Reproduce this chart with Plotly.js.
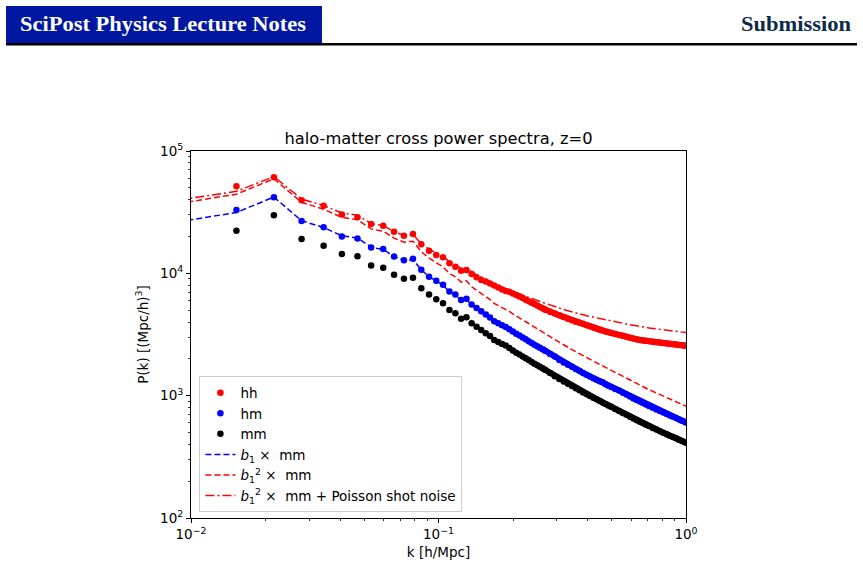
<!DOCTYPE html>
<html>
<head>
<meta charset="utf-8">
<script src="https://cdn.plot.ly/plotly-3.0.1.min.js"></script>
<style>
  html, body { margin: 0; padding: 0; background: #ffffff; }
  #wrap { position: relative; width: 863px; height: 570px; overflow: hidden; }
  #chart { position: absolute; left: 0; top: 0; width: 863px; height: 570px; }
  #hdr { position: absolute; left: 0; top: 0; }
</style>
</head>
<body>
<div id="wrap">
  <div id="chart"></div>
  <svg id="hdr" width="863" height="50" xmlns="http://www.w3.org/2000/svg">
    <rect x="6" y="6" width="316" height="38" fill="#0017a2"/>
    <rect x="6" y="43" width="851" height="2.5" fill="#000000"/>
    <text x="20" y="31" font-family="Liberation Serif, serif" font-weight="bold" font-size="22" fill="#ffffff" textLength="286" lengthAdjust="spacingAndGlyphs">SciPost Physics Lecture Notes</text>
    <text x="741" y="31" font-family="Liberation Serif, serif" font-weight="bold" font-size="22" fill="#0c2b4b" textLength="110" lengthAdjust="spacingAndGlyphs">Submission</text>
  </svg>
</div>
<script>
// wavenumbers k [h/Mpc]
const k = [0.00890, 0.01526, 0.02162, 0.02798, 0.03434, 0.04070, 0.04706, 0.05342, 0.05978, 0.06614,
  0.07250, 0.07886, 0.08522, 0.09158, 0.09794, 0.1043, 0.1107, 0.1170, 0.1234, 0.1297,
  0.1361, 0.1425, 0.1488, 0.1552, 0.1615, 0.1679, 0.1743, 0.1806, 0.1870, 0.1933,
  0.1997, 0.2061, 0.2124, 0.2188, 0.2251, 0.2315, 0.2379, 0.2442, 0.2506, 0.2569,
  0.2633, 0.2697, 0.2824, 0.2951, 0.3078, 0.3206, 0.3333, 0.3460, 0.3587, 0.3714,
  0.3841, 0.3969, 0.4096, 0.4223, 0.4350, 0.4477, 0.4605, 0.4732, 0.4859, 0.4986,
  0.5177, 0.5368, 0.5559, 0.5749, 0.5940, 0.6131, 0.6322, 0.6513, 0.6704, 0.6894,
  0.7085, 0.7339, 0.7594, 0.7848, 0.8103, 0.8357, 0.8611, 0.8866, 0.9120, 0.9375,
  0.9629, 0.9883, 1.0011];

// halo-halo power spectrum
const P_hh = [40000, 51400, 61000, 39500, 35700, 30300, 28800, 25300, 24500, 21900,
  20300, 20960, 17270, 15300, 14110, 13510, 12070, 11320, 10500, 10640,
  9870, 9275, 8815, 8587, 8268, 7948, 7653, 7372, 7166, 7058,
  6837, 6658, 6461, 6282, 6095, 5925, 5761, 5610, 5465, 5312,
  5173, 5039, 4863, 4691, 4535, 4392, 4255, 4128, 4029, 3939,
  3851, 3765, 3687, 3612, 3544, 3471, 3406, 3350, 3299, 3256,
  3195, 3136, 3083, 3031, 2981, 2936, 2887, 2849, 2828, 2807,
  2786, 2764, 2738, 2718, 2692, 2672, 2652, 2632, 2618, 2598,
  2578, 2564, 2555];

// halo-matter cross power spectrum
const P_hm = [26000, 32900, 41800, 26800, 23800, 20000, 19300, 16300, 15800, 13760,
  12780, 13150, 10700, 9380, 8700, 8050, 7100, 6700, 6050, 6200,
  5560, 5200, 4900, 4600, 4360, 4060, 3900, 3770, 3650, 3490,
  3340, 3200, 3100, 2990, 2890, 2790, 2690, 2610, 2540, 2460,
  2400, 2330, 2190, 2090, 1960, 1870, 1790, 1720, 1650, 1600,
  1530, 1480, 1435, 1390, 1350, 1310, 1285, 1240, 1205, 1175,
  1135, 1100, 1055, 1020, 985, 950, 922, 895, 870, 846,
  825, 797, 772, 750, 728, 708, 690, 672, 656, 640,
  625, 611, 603];

// matter-matter power spectrum
const P_mm = [18700, 22300, 29800, 19100, 16800, 14400, 13800, 11600, 11100, 9750,
  9040, 9200, 7540, 6700, 6130, 5690, 5010, 4710, 4260, 4370,
  3900, 3660, 3440, 3230, 3070, 2850, 2744, 2640, 2570, 2450,
  2340, 2240, 2170, 2090, 2020, 1954, 1882, 1823, 1773, 1720,
  1672, 1625, 1529, 1441, 1369, 1307, 1249, 1198, 1150, 1105,
  1063, 1027, 995, 963, 935, 907, 880, 855, 832, 810,
  779, 750, 722, 697, 672, 651, 630, 611, 594, 578,
  564, 545, 528, 513, 497, 484, 471, 459, 448, 437,
  427, 418, 412];

// b1 x mm
const P_b1mm = [26370, 31440, 42020, 26930, 23690, 20300, 19460, 16360, 15650, 13750,
  12750, 12970, 10630, 9450, 8640, 8020, 7060, 6640, 6010, 6160,
  5500, 5160, 4850, 4550, 4330, 4020, 3870, 3720, 3620, 3450,
  3300, 3160, 3060, 2950, 2850, 2760, 2650, 2570, 2500, 2430,
  2360, 2290, 2160, 2030, 1930, 1840, 1760, 1690, 1620, 1560,
  1500, 1450, 1400, 1360, 1320, 1280, 1240, 1210, 1170, 1140,
  1100, 1060, 1020, 983, 948, 918, 888, 862, 838, 815,
  795, 768, 744, 723, 701, 682, 664, 647, 632, 616,
  602, 589, 581];

// b1^2 x mm
const P_b1sqmm = [37210, 44380, 59300, 38010, 33430, 28660, 27460, 23080, 22090, 19400,
  17990, 18310, 15000, 13330, 12200, 11320, 9970, 9370, 8480, 8700,
  7760, 7280, 6850, 6430, 6110, 5670, 5460, 5250, 5110, 4880,
  4660, 4460, 4320, 4160, 4020, 3890, 3750, 3630, 3530, 3420,
  3330, 3230, 3040, 2870, 2720, 2600, 2490, 2380, 2290, 2200,
  2120, 2040, 1980, 1920, 1860, 1800, 1750, 1700, 1660, 1610,
  1550, 1490, 1440, 1390, 1340, 1300, 1250, 1220, 1180, 1150,
  1120, 1085, 1050, 1020, 989, 963, 937, 913, 892, 870,
  850, 832, 820];

// b1^2 x mm + Poisson shot noise
const P_b1sqmm_shot = [39670, 46840, 61760, 40470, 35890, 31120, 29920, 25540, 24550, 21860,
  20450, 20770, 17460, 15790, 14660, 13780, 12430, 11830, 10940, 11160,
  10220, 9740, 9310, 8890, 8570, 8130, 7920, 7710, 7570, 7340,
  7120, 6920, 6780, 6620, 6480, 6350, 6210, 6090, 5990, 5880,
  5790, 5690, 5500, 5330, 5180, 5060, 4950, 4840, 4750, 4660,
  4580, 4500, 4440, 4380, 4320, 4260, 4210, 4160, 4120, 4070,
  4010, 3950, 3900, 3850, 3800, 3760, 3710, 3680, 3640, 3610,
  3580, 3545, 3510, 3480, 3449, 3423, 3397, 3373, 3352, 3330,
  3310, 3292, 3280];

const seriesNames = ['hh', 'hm', 'mm',
  '<i>b</i><sub>1</sub> \u00d7  mm',
  '<i>b</i><sub>1</sub><sup>2</sup> \u00d7  mm',
  '<i>b</i><sub>1</sub><sup>2</sup> \u00d7  mm + Poisson shot noise'];

const xTickVals = [0.01, 0.1, 1];
const xTickText = ['10<sup>\u22122</sup>', '10<sup>\u22121</sup>', '10<sup>0</sup>'];
const yTickVals = [100, 1000, 10000, 100000];
const yTickText = ['10<sup>2</sup>', '10<sup>3</sup>', '10<sup>4</sup>', '10<sup>5</sup>'];
const xMinor = [0.02,0.03,0.04,0.05,0.06,0.07,0.08,0.09,0.2,0.3,0.4,0.5,0.6,0.7,0.8,0.9];
const yMinor = [200,300,400,500,600,700,800,900,2000,3000,4000,5000,6000,7000,8000,9000,
  20000,30000,40000,50000,60000,70000,80000,90000];

// the dense bins at high k merge into a continuous band of markers
const DENSE_FROM = 40;

const RED = '#ff0000', BLUE = '#0000ff', BLACK = '#000000';
const MS = 6.5;
const mk = (y, name, color) => ({x: k, y: y, name: name, type: 'scatter', mode: 'markers',
  marker: {color: color, size: MS, line: {width: 0}}, cliponaxis: true});
const band = (y, color) => ({x: k.slice(DENSE_FROM), y: y.slice(DENSE_FROM), type: 'scatter', mode: 'lines',
  line: {color: color, width: MS - 0.5}, showlegend: false, hoverinfo: 'skip', cliponaxis: true});
const ln = (y, name, color, dash) => ({x: k, y: y, name: name, type: 'scatter', mode: 'lines',
  line: {color: color, width: 1.5, dash: dash}, cliponaxis: true});

const data = [
  band(P_hh, RED),
  band(P_hm, BLUE),
  band(P_mm, BLACK),
  mk(P_hh, seriesNames[0], RED),
  mk(P_hm, seriesNames[1], BLUE),
  mk(P_mm, seriesNames[2], BLACK),
  ln(P_b1mm, seriesNames[3], BLUE, '6px,3px'),
  ln(P_b1sqmm, seriesNames[4], RED, '6px,3px'),
  ln(P_b1sqmm_shot, seriesNames[5], RED, '9px,3px,2px,3px')
];

const FONT = 'DejaVu Sans, sans-serif';
const axisCommon = {
  type: 'log', showgrid: false, zeroline: false,
  showline: true, linecolor: '#000', linewidth: 1, mirror: true,
  ticks: 'outside', ticklen: 4, tickwidth: 1, tickcolor: '#000',
  tickmode: 'array',
  tickfont: {family: FONT, size: 13.5, color: '#000'}
};

const layout = {
  width: 863, height: 570,
  margin: {l: 190.5, r: 176.5, t: 151, b: 52, pad: 0},
  paper_bgcolor: '#ffffff', plot_bgcolor: '#ffffff',
  showlegend: true,
  font: {family: FONT, color: '#000'},
  title: {text: 'halo-matter cross power spectra, z=0', font: {family: FONT, size: 16.3, color: '#000'},
    x: 0.5, xref: 'paper', xanchor: 'center', y: 1 - 138/570, yref: 'container', yanchor: 'middle'},
  xaxis: Object.assign({}, axisCommon, {
    range: [-2, 0], tickvals: xTickVals, ticktext: xTickText,
    minor: {tickmode: 'array', tickvals: xMinor, ticks: 'outside', ticklen: 2, tickwidth: 0.8, tickcolor: '#000', showgrid: false},
    title: {text: 'k [h/Mpc]', font: {family: FONT, size: 13.5, color: '#000'}, standoff: 6}
  }),
  yaxis: Object.assign({}, axisCommon, {
    range: [2, 5], tickvals: yTickVals, ticktext: yTickText,
    minor: {tickmode: 'array', tickvals: yMinor, ticks: 'outside', ticklen: 2, tickwidth: 0.8, tickcolor: '#000', showgrid: false},
    title: {text: 'P(k) [(Mpc/h)<sup>3</sup>]', font: {family: FONT, size: 13.5, color: '#000'}, standoff: 8}
  }),
  legend: {
    x: 0.017, y: 0.015, xanchor: 'left', yanchor: 'bottom',
    bgcolor: 'rgba(255,255,255,0.85)', bordercolor: '#cccccc', borderwidth: 1,
    font: {family: FONT, size: 13.5, color: '#000'},
    tracegroupgap: 0, itemwidth: 30
  }
};

Plotly.newPlot('chart', data, layout, {displayModeBar: false, staticPlot: true});
</script>
</body>
</html>
